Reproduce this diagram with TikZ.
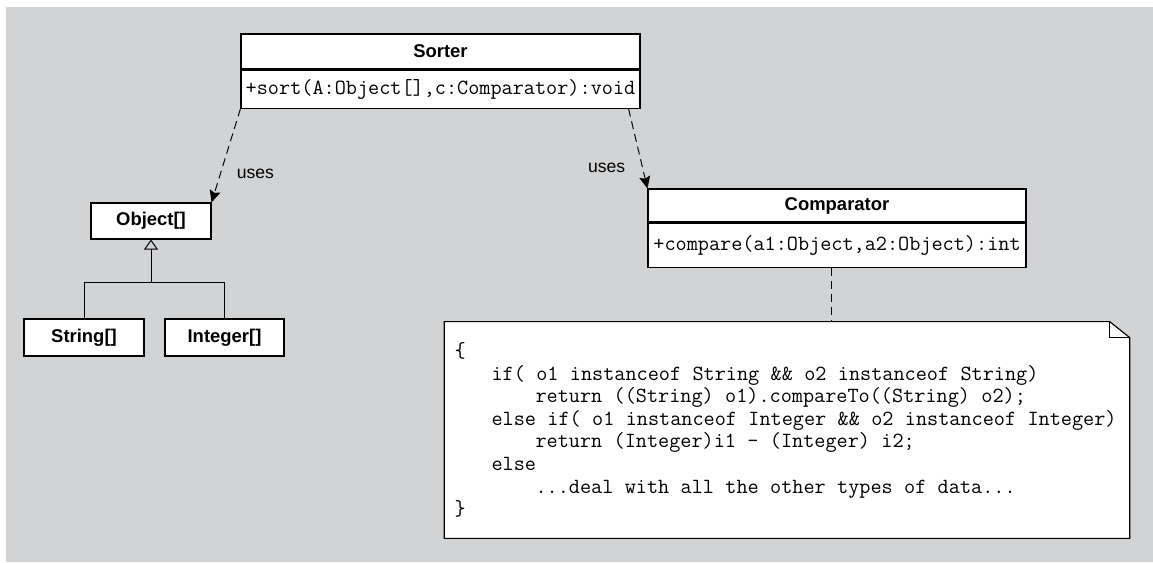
\documentclass[tikz,border=0pt]{standalone}
\usepackage{fontspec}
\setmainfont{Liberation Sans}
\usetikzlibrary{arrows.meta, calc}
\definecolor{panel}{RGB}{210,211,213}
\newcommand{\codesize}{\fontsize{10.5}{12.87}\selectfont}
\newcommand{\monosize}{\fontsize{12.3}{12.87}\selectfont}
\newcommand{\fixspaces}{\spaceskip=6.46pt\xspaceskip=6.46pt\relax}

\begin{document}
\begin{tikzpicture}[x=0.02cm, y=-0.02cm,
  >={Stealth[length=0.24cm,width=0.22cm,inset=0.04cm]},
  box/.style={draw, fill=white, line width=0.65pt, inner sep=0pt},
  classname/.style={box, font=\bfseries\codesize},
  ops/.style={box, font=\ttfamily\monosize},
  usesarrow/.style={->, dash pattern=on 0.16cm off 0.1cm, line width=0.55pt},
  link/.style={line width=0.55pt}]
  \useasboundingbox (0,0) rectangle (1153,562);
  \fill[panel] (6,7) rectangle (1153,562);

  % Sorter class
  \node[classname, minimum width=7.98cm, minimum height=0.7cm] (sorter) at (440.5,51.5) {Sorter};
  \node[ops, minimum width=7.98cm, minimum height=0.76cm, anchor=north] (sortops) at (sorter.south) {+sort(A:Object[],c:Comparator):void};

  % array hierarchy
  \node[classname, minimum width=2.4cm, minimum height=0.72cm] (obj) at (151,221) {Object[]};
  \node[classname, minimum width=2.4cm, minimum height=0.74cm] (strarr) at (84,337.5) {String[]};
  \node[classname, minimum width=2.38cm, minimum height=0.74cm] (intarr) at (224.5,337.5) {Integer[]};
  \coordinate (fork) at ($(obj.south)+(0,43)$);
  \draw[link] (strarr.north) |- (fork) -| (intarr.north);
  \draw[link, -{Triangle[open,length=0.2cm,width=0.28cm]}] (fork) -- (obj.south);

  % Comparator class
  \node[classname, minimum width=7.56cm, minimum height=0.66cm] (cmp) at (837,205.5) {Comparator};
  \node[ops, minimum width=7.56cm, minimum height=0.88cm, anchor=north] (cmpops) at (cmp.south) {+compare(a1:Object,a2:Object):int};

  % uses
  \draw[usesarrow] (sortops.south west) -- (obj.north east)
    node[pos=0.69, anchor=west, xshift=0.2cm] (uses1) {uses};
  \draw[usesarrow] ([xshift=-0.24cm]sortops.south east) -- (cmp.north west)
    node[pos=0.74, anchor=east, xshift=-0.22cm] (uses2) {uses};

  % note
  \node[fill=white, text width=13.3cm, inner xsep=0.2cm, inner ysep=0pt, minimum height=4.32cm,
        align=left, font=\ttfamily\monosize] (note) at (787,430) {\fixspaces
    \{\\
    \hspace*{0.74cm}if( o1 instanceof String \&\& o2 instanceof String)\\
    \hspace*{1.62cm}return ((String) o1).compareTo((String) o2);\\
    \hspace*{0.74cm}else if( o1 instanceof Integer \&\& o2 instanceof Integer)\\
    \hspace*{1.62cm}return (Integer)i1 - (Integer) i2;\\
    \hspace*{0.74cm}else\\
    \hspace*{1.62cm}...deal with all the other types of data...\\
    \}};
  \fill[panel] (note.north east) -- ([xshift=-0.4cm]note.north east) -- ([yshift=-0.32cm]note.north east) -- cycle;
  \draw[line width=0.65pt] (note.north west) -- ([xshift=-0.4cm]note.north east) -- ([yshift=-0.32cm]note.north east)
    -- (note.south east) -- (note.south west) -- cycle;
  \draw[line width=0.65pt] ([xshift=-0.4cm]note.north east) |- ([yshift=-0.32cm]note.north east);
  \draw[link, dash pattern=on 0.16cm off 0.1cm] ([xshift=-0.12cm]cmpops.south) -- ([xshift=-0.12cm]cmpops.south |- note.north);
\end{tikzpicture}
\end{document}
